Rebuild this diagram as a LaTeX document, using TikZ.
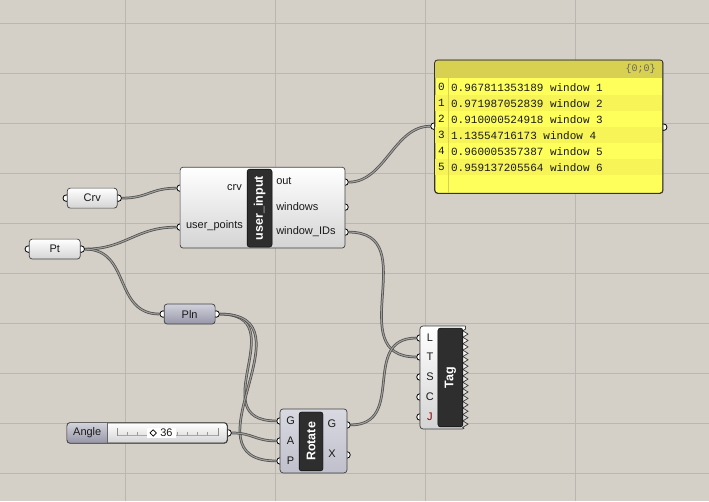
\documentclass[tikz,border=0pt]{standalone}
\usepackage{fontspec}
\setmainfont{Liberation Sans}
\newfontfamily\monofont{Liberation Mono}
\usetikzlibrary{decorations.pathmorphing}
\definecolor{canvas}{RGB}{212,208,200}
\definecolor{gridc}{RGB}{186,182,176}
\definecolor{wirec}{RGB}{78,78,78}
\definecolor{wirein}{RGB}{160,158,154}
\definecolor{panelc}{RGB}{255,255,92}
\definecolor{panelb}{RGB}{246,244,86}
\definecolor{panelh}{RGB}{216,208,80}
\definecolor{lavtop}{RGB}{210,210,220}
\definecolor{lavbot}{RGB}{150,150,168}
\pgfdeclarelayer{back}
\pgfsetlayers{back,main}

\begin{document}
\begin{tikzpicture}[x=1pt,y=-1pt,
    comp/.style={draw=black!75,line width=0.7pt,rounded corners=3pt,
      top color=white,bottom color=black!17,inner sep=0pt},
    pcomp/.style={comp,top color=lavtop,bottom color=lavbot},
    bar/.style={fill=black!82,draw=black,rounded corners=2.5pt,text=white,
      rotate=90,inner sep=0pt,font=\fontsize{12.5}{14}\selectfont\bfseries},
    port/.style={circle,draw=black,fill=white,line width=0.8pt,
      minimum size=6.5pt,inner sep=0pt},
    lbl/.style={font=\fontsize{11}{13}\selectfont,text=black!90,inner sep=0pt},
    mono/.style={font=\fontsize{11}{13}\monofont,text=black!90,inner sep=0pt},
    wire/.style={draw=wirec,double=wirein,double distance=1.1pt,line width=0.75pt},
    gridline/.style={draw=gridc,line width=0.6pt}]

  \begin{pgfonlayer}{back}
    \fill[canvas] (0,0) rectangle (709,501);
    \foreach \x in {125,275,425,575}
      \draw[gridline] (\x,0) -- (\x,501);
    \foreach \y in {23,73,...,473}
      \draw[gridline] (0,\y) -- (709,\y);
  \end{pgfonlayer}
  \useasboundingbox (0,0) rectangle (709,501);

  % parameters
  \node[port] (crvi) at (66,198) {};
  \node[port] (crvo) at (118,198) {};
  \node[comp,minimum width=50pt,minimum height=20pt] (crv) at (92,198) {};
  \node[lbl] (crvl) at (92,198) {Crv};

  \node[port] (pti) at (28,249) {};
  \node[port] (pto) at (81,249) {};
  \node[comp,minimum width=51pt,minimum height=20pt] (pt) at (54.5,249) {};
  \node[lbl] (ptl) at (54.5,249) {Pt};

  \node[port] (plni) at (163,314) {};
  \node[port] (plno) at (216,314) {};
  \node[pcomp,minimum width=51pt,minimum height=20pt] (pln) at (189.5,314) {};
  \node[lbl] (plnl) at (189.5,314) {Pln};

  % user_input
  \node[port] (uicrv) at (180,188) {};
  \node[port] (uipts) at (180,227) {};
  \node[port] (uiout) at (345,182) {};
  \node[port] (uiwin) at (345,207) {};
  \node[port] (uiids) at (345,232) {};
  \node[comp,minimum width=165pt,minimum height=81pt] (ui) at (262.5,207.5) {};
  \node[bar,minimum width=78pt,minimum height=25pt] (uibar) at (259.5,208) {user\_input};
  \node[lbl,anchor=east] (uil1) at (242,187) {crv};
  \node[lbl,anchor=east] (uil2) at (243,226) {user\_points};
  \node[lbl,anchor=west] (uil3) at (276,181) {out};
  \node[lbl,anchor=west] (uil4) at (276,206) {windows};
  \node[lbl,anchor=west] (uil5) at (276,231) {window\_IDs};

  % panel
  \node[port] (pani) at (434,126) {};
  \node[port] (pano) at (664,127) {};
  \node[draw=black!80,fill=panelc,rounded corners=3pt,line width=0.7pt,
    minimum width=228pt,minimum height=133pt] (pan) at (549,126.5) {};
  \begin{scope}
    \clip[rounded corners=3pt] (435,60) rectangle (663,193);
    \fill[panelh] (435,60) rectangle (663,78);
    \foreach \i in {1,3,5}
      \fill[panelb] (435,79+16*\i) rectangle (663,95+16*\i);
    \draw[panelh,line width=0.8pt] (448,78) -- (448,193);
  \end{scope}
  \draw[black!80,line width=0.7pt,rounded corners=3pt] (pan.north west) rectangle (pan.south east);
  \node[mono,font=\fontsize{10}{12}\monofont,text=black!60,anchor=east] (panpath) at (656,69) {\{0;0\}};
  \foreach \i/\v in {0/0.967811353189,1/0.971987052839,2/0.910000524918,
                     3/1.13554716173,4/0.960005357387,5/0.959137205564} {
    \pgfmathtruncatemacro\w{\i+1}
    \node[mono,anchor=west] (idx\i) at (438,87+16*\i) {\i};
    \node[mono,anchor=west] (val\i) at (451,87+16*\i) {\v\ window \w};
  }

  % Tag
  \foreach \n/\y in {L/338,T/357,S/377,C/397,J/417}
    \node[port] (t\n) at (420,\y) {};
  \filldraw[draw=black!75,line width=0.7pt,top color=white,bottom color=black!17]
    (465.5,326) [rounded corners=3pt] -- (420,326) -- (420,429) -- (465.5,429) [sharp corners]
    decorate[decoration={zigzag,segment length=6.44pt,amplitude=2.6pt}] {-- (465.5,326)};
  \node[bar,minimum width=99pt,minimum height=25pt] (tagbar) at (450.5,377.5) {Tag};
  \foreach \n/\y in {L/338,T/357,S/377,C/397}
    \node[lbl] (tl\n) at (430,\y) {\n};
  \node[lbl,text=red!55!black] (tlJ) at (430,417) {J};

  % Rotate
  \node[port] (rg) at (280,421) {};
  \node[port] (ra) at (280,441) {};
  \node[port] (rp) at (280,461) {};
  \node[port] (rog) at (347,425) {};
  \node[port] (rox) at (347,455) {};
  \node[pcomp,top color=lavtop!85!white,bottom color=lavtop!70!lavbot,
    minimum width=67pt,minimum height=64pt] (rot) at (313.5,441) {};
  \node[bar,minimum width=59pt,minimum height=24pt] (rotbar) at (311,441.5) {Rotate};
  \node[lbl] (rlg) at (290.5,421) {G};
  \node[lbl] (rla) at (290.5,441) {A};
  \node[lbl] (rlp) at (290.5,461) {P};
  \node[lbl] (rlog) at (332,424) {G};
  \node[lbl] (rlox) at (332,454) {X};

  % Angle slider
  \node[port] (ango) at (228,433) {};
  \node[comp,minimum width=160pt,minimum height=20pt] (ang) at (147,433) {};
  \begin{scope}
    \clip[rounded corners=3pt] (67,423) rectangle (227,443);
    \shade[top color=lavtop,bottom color=lavbot] (67,423) rectangle (107,443);
  \end{scope}
  \draw[black!75,line width=0.7pt,rounded corners=3pt] (ang.north west) rectangle (ang.south east);
  \draw[black!60,line width=0.6pt] (107,423) -- (107,443);
  \node[lbl] (angl) at (87,433) {Angle};
  \draw[black!35,line width=0.4pt] (117,435) -- (218,435);
  \foreach \x in {127,137,...,207}
    \draw[black!40,line width=0.4pt] (\x,432) -- (\x,435);
  \draw[black!45,line width=0.4pt] (117,428) -- (117,436) (218,428) -- (218,436);
  \fill[white] (147,428) rectangle (176,438);
  \node[draw=black,line width=0.7pt,fill=white,rotate=45,minimum size=4.5pt,inner sep=0pt] (knob) at (153,433) {};
  \node[lbl,anchor=west] (angv) at (160,433) {36};

  % wires
  \begin{pgfonlayer}{back}
    \draw[wire] (crvo) .. controls +(30,0) and +(-30,0) .. (uicrv);
    \draw[wire] (pto) .. controls +(45,0) and +(-45,0) .. (uipts);
    \draw[wire] (pto) .. controls +(50,0) and +(-50,0) .. (plni);
    \draw[wire] (uiout) .. controls +(40,0) and +(-40,0) .. (pani);
    \draw[wire] (uiids) .. controls +(80,0) and +(-80,0) .. (tT);
    \draw[wire] (rog) .. controls +(60,0) and +(-60,0) .. (tL);
    \draw[wire] (plno) .. controls +(80,0) and +(-80,0) .. (rg);
    \draw[wire] (plno) .. controls +(100,0) and +(-100,0) .. (rp);
    \draw[wire] (ango) .. controls +(25,0) and +(-25,0) .. (ra);
  \end{pgfonlayer}

\end{tikzpicture}
\end{document}
